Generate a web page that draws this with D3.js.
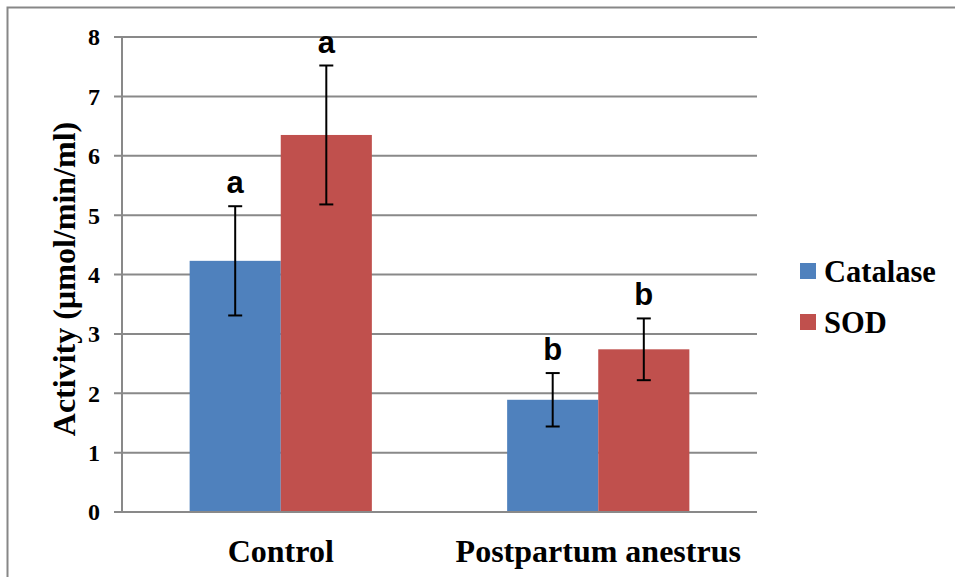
<!DOCTYPE html>
<html><head><meta charset="utf-8">
<script src="https://cdn.jsdelivr.net/npm/d3@7"></script>
</head><body style="margin:0">
<svg id="c" width="955" height="577"></svg>
<script>
const categories = ["Control", "Postpartum anestrus"];
const seriesNames = ["Catalase", "SOD"];
const catalase = [4.23, 1.89];
const catalaseErr = [0.92, 0.45];
const sod = [6.35, 2.74];
const sodErr = [1.17, 0.52];
const catalaseLetters = ["a", "b"];
const sodLetters = ["a", "b"];
const yTicks = [0, 1, 2, 3, 4, 5, 6, 7, 8];
const colors = ["#4f81bd", "#c0504d"];

const svg = d3.select("#c");
const m = {left: 122, right: 757, top: 37, bottom: 512};

function serifText(sel, size) {
  return sel.style("font-family", '"Liberation Serif"').style("font-weight", "bold").style("font-size", size + "px").attr("fill", "#000");
}

svg.append("path").attr("d", "M7.5,577 L7.5,7.5 L955,7.5")
  .attr("fill", "none").attr("stroke", "#878787").attr("stroke-width", 2);

const x = d3.scaleBand().domain(categories).range([m.left, m.right]).paddingInner(0).paddingOuter(0);
const y = d3.scaleLinear().domain([0, 8]).range([m.bottom, m.top]);
const inner = d3.scaleBand().domain(seriesNames).range([0, x.bandwidth()]).paddingInner(0).paddingOuter(0.7424);

svg.append("g").selectAll("line").data(yTicks).join("line")
  .attr("x1", m.left - 8).attr("x2", m.right)
  .attr("y1", d => y(d)).attr("y2", d => y(d))
  .attr("stroke", "#898989").attr("stroke-width", 2);

svg.append("g").selectAll("text").data(yTicks).join("text")
  .attr("x", m.left - 22).attr("y", d => y(d)).attr("dy", "0.35em")
  .attr("text-anchor", "end")
  .call(serifText, 24)
  .text(d => d3.format("d")(d));

svg.append("line").attr("x1", m.left).attr("x2", m.left).attr("y1", m.top).attr("y2", m.bottom)
  .attr("stroke", "#898989").attr("stroke-width", 2);

const data = [];
categories.forEach((c, i) => {
  data.push({cat: c, s: "Catalase", v: catalase[i], e: catalaseErr[i], l: catalaseLetters[i], col: colors[0]});
  data.push({cat: c, s: "SOD", v: sod[i], e: sodErr[i], l: sodLetters[i], col: colors[1]});
});

svg.append("g").selectAll("rect").data(data).join("rect")
  .attr("x", d => x(d.cat) + inner(d.s))
  .attr("width", inner.bandwidth())
  .attr("y", d => y(d.v)).attr("height", d => y(0) - y(d.v))
  .attr("fill", d => d.col);

svg.append("line").attr("x1", m.left).attr("x2", m.right).attr("y1", y(0)).attr("y2", y(0))
  .attr("stroke", "#898989").attr("stroke-width", 2);

const eb = svg.append("g").attr("stroke", "#000").attr("stroke-width", 2);
data.forEach(d => {
  const cx = x(d.cat) + inner(d.s) + inner.bandwidth() / 2;
  eb.append("line").attr("x1", cx).attr("x2", cx).attr("y1", y(d.v + d.e)).attr("y2", y(d.v - d.e));
  eb.append("line").attr("x1", cx - 7).attr("x2", cx + 7).attr("y1", y(d.v + d.e)).attr("y2", y(d.v + d.e));
  eb.append("line").attr("x1", cx - 7).attr("x2", cx + 7).attr("y1", y(d.v - d.e)).attr("y2", y(d.v - d.e));
});

svg.append("g").selectAll("text").data(data).join("text")
  .attr("x", d => x(d.cat) + inner(d.s) + inner.bandwidth() / 2)
  .attr("y", d => y(d.v + d.e) - 13)
  .attr("text-anchor", "middle")
  .style("font-family", '"Liberation Sans"').style("font-weight", "bold")
  .style("font-size", "31px").attr("fill", "#000")
  .text(d => d.l);

svg.append("g").selectAll("text").data(categories).join("text")
  .attr("x", d => x(d) + x.bandwidth() / 2).attr("y", 562)
  .attr("text-anchor", "middle")
  .call(serifText, 32)
  .text(d => d);

svg.append("text")
  .attr("transform", "translate(75,279) rotate(-90)")
  .attr("text-anchor", "middle")
  .call(serifText, 32)
  .text("Activity (µmol/min/ml)");

seriesNames.forEach((s, i) => {
  const yy = 271 + i * 51;
  svg.append("rect").attr("x", 800).attr("y", yy - 8).attr("width", 16).attr("height", 16).attr("fill", colors[i]);
  svg.append("text").attr("x", 824).attr("y", yy + 10.5)
    .call(serifText, 30.5).text(s);
});
</script>
</body></html>
